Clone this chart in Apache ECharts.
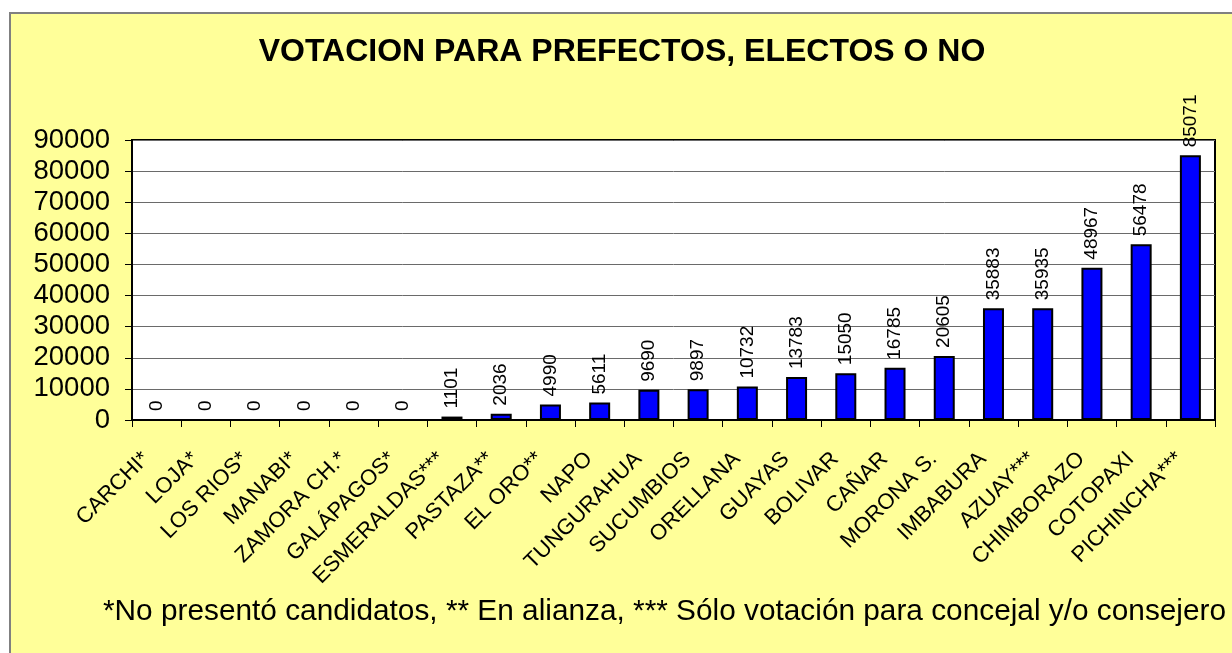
<!DOCTYPE html>
<html>
<head>
<meta charset="utf-8">
<script src="https://cdn.jsdelivr.net/npm/echarts@6/dist/echarts.min.js"></script>
<style>
  html, body { margin: 0; padding: 0; background: #fff; }
  #main { width: 1232px; height: 653px; }
</style>
</head>
<body>
<div id="main"></div>
<script>
// provincias y votos
const provincias = ['CARCHI*', 'LOJA*', 'LOS RIOS*', 'MANABI*', 'ZAMORA CH.*', 'GALÁPAGOS*',
  'ESMERALDAS***', 'PASTAZA**', 'EL ORO**', 'NAPO', 'TUNGURAHUA', 'SUCUMBIOS', 'ORELLANA',
  'GUAYAS', 'BOLIVAR', 'CAÑAR', 'MORONA S.', 'IMBABURA', 'AZUAY***', 'CHIMBORAZO',
  'COTOPAXI', 'PICHINCHA***']
const votos = [0, 0, 0, 0, 0, 0, 1101, 2036, 4990, 5611, 9690, 9897, 10732, 13783, 15050,
  16785, 20605, 35883, 35935, 48967, 56478, 85071]
const yTicks = [0, 10000, 20000, 30000, 40000, 50000, 60000, 70000, 80000, 90000]

const titulo = 'VOTACION PARA PREFECTOS, ELECTOS O NO'
const nota = '*No presentó candidatos, ** En alianza, *** Sólo votación para concejal y/o consejero'

const FONT = "'Liberation Sans', Arial, sans-serif"

const chart = echarts.init(document.getElementById('main'), null, { renderer: 'canvas' })

const option = {
  backgroundColor: '#ffffff',
  animation: false,
  textStyle: { fontFamily: FONT },
  graphic: [
    {
      type: 'rect',
      z: -10,
      shape: { x: 10, y: 13, width: 1240, height: 660 },
      style: { fill: '#FFFF99', stroke: '#808080', lineWidth: 2 }
    },
    {
      type: 'text',
      x: 622, y: 52,
      style: {
        text: titulo, fontFamily: FONT, fontSize: 32, fontWeight: 'bold',
        fill: '#000', align: 'center', verticalAlign: 'middle'
      }
    },
    {
      type: 'text',
      x: 103, y: 612,
      style: {
        text: nota, fontFamily: FONT, fontSize: 29.8,
        fill: '#000', align: 'left', verticalAlign: 'middle'
      }
    }
  ],
  grid: {
    show: true,
    left: 132, top: 140, right: 17, bottom: 233,
    backgroundColor: '#ffffff',
    borderColor: '#000',
    borderWidth: 2,
    containLabel: false
  },
  xAxis: {
    type: 'category',
    data: provincias,
    axisLine: { lineStyle: { color: '#000', width: 2 } },
    axisTick: { show: true, length: 7, lineStyle: { color: '#000' } },
    axisLabel: {
      interval: 0,
      rotate: 45,
      margin: 25,
      padding: [0, 15, 0, 0],
      fontSize: 22,
      fontFamily: FONT,
      color: '#000'
    }
  },
  yAxis: {
    type: 'value',
    min: 0,
    max: yTicks[yTicks.length - 1],
    interval: yTicks[1] - yTicks[0],
    axisLine: { show: true, lineStyle: { color: '#000', width: 2 } },
    axisTick: { show: true, length: 7, lineStyle: { color: '#000' } },
    splitLine: { show: true, lineStyle: { color: '#6a6a6a', width: 1 } },
    axisLabel: {
      fontSize: 27.5, fontFamily: FONT, color: '#000', margin: 22,
      formatter: v => String(v)
    }
  },
  series: [
    {
      type: 'bar',
      data: votos,
      barWidth: 21,
      itemStyle: { color: '#0000FF', borderColor: '#000', borderWidth: 2 },
      label: {
        show: true,
        position: 'top',
        rotate: 90,
        align: 'left',
        verticalAlign: 'middle',
        distance: 8,
        fontSize: 19,
        fontFamily: FONT,
        color: '#000'
      }
    }
  ]
}

chart.setOption(option)
</script>
</body>
</html>
